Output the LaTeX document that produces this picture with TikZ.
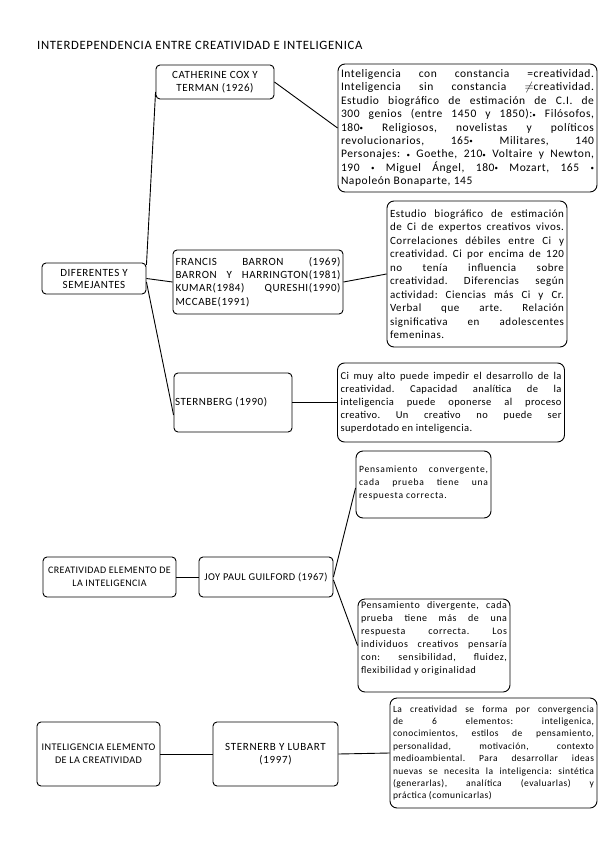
\documentclass[tikz,border=0pt]{standalone}
\usepackage{fontspec}
\setmainfont{Carlito}
\usetikzlibrary{calc}
\frenchspacing
\newcommand\jl[1]{\hbox to \hsize{\spaceskip=\fontdimen2\font plus 1fil\relax #1}}
\newcommand\jz[1]{\hbox to \hsize{#1\hfil}}
\newcommand\fs[3]{\fontsize{#1}{#2}\selectfont\addfontfeature{LetterSpace=#3}}
\newcommand\bl{\raisebox{0.6pt}{\fontsize{7}{7}\selectfont •}}
\tikzset{
  lab/.style={draw, line width=0.9pt, rounded corners=4pt, fill=white, inner sep=0pt, align=center},
  tb/.style={draw, line width=0.9pt, rounded corners=7pt, fill=white, inner xsep=3pt, inner ysep=0pt},
  con/.style={line width=0.9pt}
}
\begin{document}
\begin{tikzpicture}[x=1pt,y=-1pt]
\useasboundingbox (0,0) rectangle (599,848);
\fill[white] (0,0) rectangle (599,848);

\node[anchor=west, inner sep=0pt, font={\fs{12.7}{14}{5}}] (title) at (37,45) {INTERDEPENDENCIA ENTRE CREATIVIDAD E INTELIGENICA};

% section 1
\node[lab, minimum width=118pt, minimum height=34pt, font={\fs{11}{13.3}{5}}] (cat) at (215,82) {CATHERINE COX Y\\TERMAN (1926)};
\node[tb, minimum width=259pt, minimum height=128pt, font={\fs{11.5}{13.4}{5}}] (t1) at (467.5,128) {\vbox{\hsize=253pt
\jl{Inteligencia con constancia =creatividad.}
\jl{Inteligencia sin constancia $\neq$creatividad.}
\jl{Estudio biográfico de estimación de C.I. de}
\jl{300 genios (entre 1450 y 1850):\bl{} Filósofos,}
\jl{180\bl{} Religiosos, novelistas y políticos}
\jl{revolucionarios, 165\bl{} Militares, 140}
\jl{Personajes: \bl{} Goethe, 210\bl{} Voltaire y Newton,}
\jl{190 \bl{} Miguel Ángel, 180\bl{} Mozart, 165 \bl}
\jz{Napoleón Bonaparte, 145}}};

\node[lab, minimum width=104pt, minimum height=31pt, font={\fs{11}{12}{5}}] (dif) at (94,278.5) {DIFERENTES Y\\SEMEJANTES};

\node[lab, minimum width=170pt, minimum height=64pt, font={\fs{11}{13.3}{5}}] (fra) at (258,282) {\vbox{\hsize=165pt
\jl{FRANCIS BARRON (1969)}
\jl{BARRON Y HARRINGTON(1981)}
\jl{KUMAR(1984) QURESHI(1990)}
\jz{MCCABE(1991)}}};

\node[tb, minimum width=180pt, minimum height=146pt, font={\fs{11}{13.5}{5}}] (t2) at (477,274) {\vbox{\hsize=174pt
\jl{Estudio biográfico de estimación}
\jl{de Ci de expertos creativos vivos.}
\jl{Correlaciones débiles entre Ci y}
\jl{creatividad. Ci por encima de 120}
\jl{no tenía influencia sobre}
\jl{creatividad. Diferencias según}
\jl{actividad: Ciencias más Ci y Cr.}
\jl{Verbal que arte. Relación}
\jl{significativa en adolescentes}
\jz{femeninas.}}};

\node[lab, minimum width=118pt, minimum height=59pt, font={\fs{11}{13}{5}}] (ste) at (233,402.5) {\hbox to 116pt{STERNBERG (1990)\hfil}};

\node[tb, minimum width=226pt, minimum height=79pt, font={\fs{10.5}{13}{4}}] (t3) at (451,402.5) {\vbox{\hsize=221pt
\jl{Ci muy alto puede impedir el desarrollo de la}
\jl{creatividad. Capacidad analítica de la}
\jl{inteligencia puede oponerse al proceso}
\jl{creativo. Un creativo no puede ser}
\jz{superdotado en inteligencia.}}};

% section 2
\node[lab, minimum width=133pt, minimum height=40pt, font={\fs{10}{12.7}{4}}] (cre) at (109.5,577) {CREATIVIDAD ELEMENTO DE\\LA INTELIGENCIA};
\node[lab, minimum width=134pt, minimum height=40pt, font={\fs{10.4}{12.7}{4}}] (joy) at (266,577) {JOY PAUL GUILFORD (1967)};

\node[tb, minimum width=135pt, minimum height=67pt, font={\fs{9.6}{12.8}{8}}] (conv) at (423.5,484.5) {\vbox to 67pt{\hsize=129pt\vskip 15pt
\jl{Pensamiento convergente,}
\jl{cada prueba tiene una}
\jz{respuesta correcta.}\vfil}};

\node[tb, minimum width=152pt, minimum height=93pt, font={\fs{10}{12.9}{6}}] (div) at (434,645.5) {\vbox to 93pt{\hsize=146pt\vskip 3pt
\jl{Pensamiento divergente, cada}
\jl{prueba tiene más de una}
\jl{respuesta correcta. Los}
\jl{individuos creativos pensaría}
\jl{con: sensibilidad, fluidez,}
\jz{flexibilidad y originalidad}\vfil}};

% section 3
\node[lab, minimum width=123pt, minimum height=64pt, font={\fs{10.2}{12.7}{4}}] (intel) at (98.5,754) {INTELIGENCIA ELEMENTO\\DE LA CREATIVIDAD};
\node[lab, minimum width=125pt, minimum height=64pt, font={\fs{11}{12.7}{6}}] (slu) at (275.5,754) {STERNERB Y LUBART\\(1997)};

\node[tb, minimum width=207pt, minimum height=110pt, font={\fs{9.5}{12.4}{5}}] (t4) at (493.5,753) {\vbox{\hsize=201pt
\jl{La creatividad se forma por convergencia}
\jl{de 6 elementos: inteligenica,}
\jl{conocimientos, estilos de pensamiento,}
\jl{personalidad, motivación, contexto}
\jl{medioambiental. Para desarrollar ideas}
\jl{nuevas se necesita la inteligencia: sintética}
\jl{(generarlas), analítica (evaluarlas) y}
\jz{práctica (comunicarlas)}}};

% connectors
\draw[con] (cat.east) -- (t1.west);
\draw[con] ($(dif.east)+(0,-13.5)$) -- ($(cat.west)+(0,10)$);
\draw[con] (dif.east) -- (fra.west);
\draw[con] (fra.east) -- (t2.west);
\draw[con] ($(dif.east)+(0,3.5)$) -- ($(ste.west)+(0,12.5)$);
\draw[con] (ste.east) -- (t3.west);
\draw[con] (cre.east) -- (joy.west);
\draw[con] (joy.east) -- ($(conv.west)+(0,3.5)$);
\draw[con] ($(joy.east)+(0,3)$) -- (div.west);
\draw[con] (intel.east) -- (slu.west);
\draw[con] (slu.east) -- (t4.west);
\end{tikzpicture}
\end{document}
